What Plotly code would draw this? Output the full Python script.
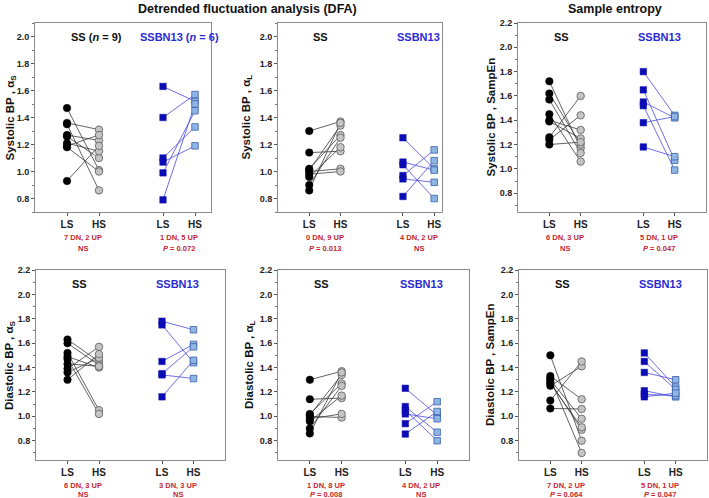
import plotly.graph_objects as go

W, H = 709, 498

# ---------------- data ----------------
X_LABELS = ["LS", "HS", "LS", "HS"]
X_POS = [1, 2, 4, 5]

# Systolic BP, alpha S
SYS_AS_SS_LS = [1.47, 1.36, 1.35, 1.27, 1.26, 1.21, 1.19, 1.18, 0.93]
SYS_AS_SS_HS = [1.01, 1.31, 0.86, 1.23, 1.10, 1.15, 1.27, 1.00, 1.19]
SYS_AS_BN_LS = [1.63, 1.40, 1.10, 1.07, 0.99, 0.79]
SYS_AS_BN_HS = [1.52, 1.57, 1.33, 1.19, 1.45, 1.50]

# Systolic BP, alpha L
SYS_AL_SS_LS = [1.30, 1.14, 1.02, 1.01, 1.00, 0.98, 0.96, 0.90, 0.86]
SYS_AL_SS_HS = [1.37, 1.15, 1.27, 1.34, 1.02, 1.00, 1.18, 1.25, 1.36]
SYS_AL_BN_LS = [1.25, 1.07, 1.05, 0.97, 0.945, 0.815]
SYS_AL_BN_HS = [1.02, 1.01, 0.80, 1.16, 0.92, 1.08]

# Systolic BP, SampEn
SYS_SE_SS_LS = [1.72, 1.62, 1.57, 1.45, 1.40, 1.39, 1.26, 1.24, 1.20]
SYS_SE_SS_HS = [1.17, 1.20, 1.13, 1.06, 1.32, 1.25, 1.60, 1.44, 1.22]
SYS_SE_BN_LS = [1.80, 1.65, 1.55, 1.52, 1.38, 1.18]
SYS_SE_BN_HS = [1.44, 1.07, 1.42, 0.99, 1.43, 1.10]

# Diastolic BP, alpha S
DIA_AS_SS_LS = [1.63, 1.60, 1.52, 1.49, 1.47, 1.43, 1.39, 1.36, 1.30]
DIA_AS_SS_HS = [1.45, 1.42, 1.05, 1.40, 1.02, 1.41, 1.57, 1.48, 1.51]
DIA_AS_BN_LS = [1.78, 1.75, 1.45, 1.35, 1.34, 1.16]
DIA_AS_BN_HS = [1.71, 1.44, 1.59, 1.57, 1.31, 1.46]

# Diastolic BP, alpha L
DIA_AL_SS_LS = [1.30, 1.14, 1.02, 1.01, 1.00, 0.98, 0.96, 0.90, 0.86]
DIA_AL_SS_HS = [1.37, 1.15, 1.27, 1.34, 0.99, 1.02, 1.17, 1.25, 1.36]
DIA_AL_BN_LS = [1.23, 1.08, 1.05, 1.02, 0.94, 0.855]
DIA_AL_BN_HS = [1.01, 0.87, 0.80, 0.98, 1.12, 1.04]

# Diastolic BP, SampEn
DIA_SE_SS_LS = [1.50, 1.33, 1.31, 1.30, 1.28, 1.27, 1.25, 1.13, 1.065]
DIA_SE_SS_HS = [0.80, 1.14, 0.70, 0.98, 0.89, 0.91, 1.41, 1.45, 1.06]
DIA_SE_BN_LS = [1.52, 1.45, 1.36, 1.21, 1.18, 1.16]
DIA_SE_BN_HS = [1.24, 1.22, 1.30, 1.16, 1.17, 1.19]

Y_TITLES = ["Systolic BP , α<sub>S</sub>", "Systolic BP , α<sub>L</sub>", "Systolic BP , SampEn",
            "Diastolic BP , α<sub>S</sub>", "Diastolic BP , α<sub>L</sub>", "Diastolic BP , SampEn"]
SS_LABELS = ["SS (<i>n</i> = 9)", "SS", "SS", "SS", "SS", "SS"]
BN_LABELS = ["SSBN13 (<i>n</i> = 6)", "SSBN13", "SSBN13", "SSBN13", "SSBN13", "SSBN13"]
SS_STATS = [("7 DN, 2 UP", "NS"), ("0 DN, 9 UP", "<i>P</i> = 0.013"), ("6 DN, 3 UP", "NS"),
            ("6 DN, 3 UP", "NS"), ("1 DN, 8 UP", "<i>P</i> = 0.008"), ("7 DN, 2 UP", "<i>P</i> = 0.064")]
BN_STATS = [("1 DN, 5 UP", "<i>P</i> = 0.072"), ("4 DN, 2 UP", "NS"), ("5 DN, 1 UP", "<i>P</i> = 0.047"),
            ("3 DN, 3 UP", "NS"), ("4 DN, 2 UP", "NS"), ("5 DN, 1 UP", "<i>P</i> = 0.047")]
PANEL_TITLES = ["Detrended fluctuation analysis (DFA)", "Sample entropy"]

PANEL_DATA = [
    (SYS_AS_SS_LS, SYS_AS_SS_HS, SYS_AS_BN_LS, SYS_AS_BN_HS),
    (SYS_AL_SS_LS, SYS_AL_SS_HS, SYS_AL_BN_LS, SYS_AL_BN_HS),
    (SYS_SE_SS_LS, SYS_SE_SS_HS, SYS_SE_BN_LS, SYS_SE_BN_HS),
    (DIA_AS_SS_LS, DIA_AS_SS_HS, DIA_AS_BN_LS, DIA_AS_BN_HS),
    (DIA_AL_SS_LS, DIA_AL_SS_HS, DIA_AL_BN_LS, DIA_AL_BN_HS),
    (DIA_SE_SS_LS, DIA_SE_SS_HS, DIA_SE_BN_LS, DIA_SE_BN_HS),
]

# ---------------- layout geometry (pixels) ----------------
BOXES = [(35, 211, 23, 212), (278, 442, 23, 212), (518, 706, 23, 212),
         (36, 225, 270, 460), (278, 469, 270, 460), (519, 707, 270, 460)]
XRANGES = [[0, 5.5], [0, 5.25], [0, 6], [0, 6], [0, 6], [0, 6]]
YRANGES = [[0.7, 2.1], [0.7, 2.1], [0.645, 2.2], [0.642, 2.2], [0.642, 2.2], [0.642, 2.2]]
YTITLE_X = [10, 246, 490, 10, 250, 490]

FONT = "Liberation Sans, Arial, sans-serif"
SS_LINE = "#3a3a3a"
BN_LINE = "#4a4ae0"
BLUE_TXT = "#2b2bd4"
RED_TXT = "#c4262e"

fig = go.Figure()
layout = dict(width=W, height=H, margin=dict(l=0, r=0, t=0, b=0, autoexpand=False),
              paper_bgcolor="white", plot_bgcolor="white", showlegend=False,
              font=dict(family=FONT, color="#222"))
annotations = []

for i, (box, data) in enumerate(zip(BOXES, PANEL_DATA)):
    k = "" if i == 0 else str(i + 1)
    xa, ya = "x" + k, "y" + k
    x0, x1, y0, y1 = box
    ss_ls, ss_hs, bn_ls, bn_hs = data

    # connecting lines
    lx, ly = [], []
    for a, b in zip(ss_ls, ss_hs):
        lx += [X_POS[0], X_POS[1], None]
        ly += [a, b, None]
    fig.add_trace(go.Scatter(x=lx, y=ly, mode="lines", line=dict(color=SS_LINE, width=0.8),
                             xaxis=xa, yaxis=ya, hoverinfo="skip"))
    lx, ly = [], []
    for a, b in zip(bn_ls, bn_hs):
        lx += [X_POS[2], X_POS[3], None]
        ly += [a, b, None]
    fig.add_trace(go.Scatter(x=lx, y=ly, mode="lines", line=dict(color=BN_LINE, width=0.8),
                             xaxis=xa, yaxis=ya, hoverinfo="skip"))
    # markers
    fig.add_trace(go.Scatter(x=[X_POS[1]] * len(ss_hs), y=ss_hs, mode="markers",
                             marker=dict(symbol="circle", size=7.5, color="#c4c4c4",
                                         line=dict(color="#5a5a5a", width=0.8)),
                             xaxis=xa, yaxis=ya))
    fig.add_trace(go.Scatter(x=[X_POS[0]] * len(ss_ls), y=ss_ls, mode="markers",
                             marker=dict(symbol="circle", size=7.5, color="#000000",
                                         line=dict(color="#000000", width=0.5)),
                             xaxis=xa, yaxis=ya))
    fig.add_trace(go.Scatter(x=[X_POS[3]] * len(bn_hs), y=bn_hs, mode="markers",
                             marker=dict(symbol="square", size=6.5, color="#8db6e4",
                                         line=dict(color="#3a5ea8", width=0.8)),
                             xaxis=xa, yaxis=ya))
    fig.add_trace(go.Scatter(x=[X_POS[2]] * len(bn_ls), y=bn_ls, mode="markers",
                             marker=dict(symbol="square", size=6.5, color="#0c0cb4",
                                         line=dict(color="#0c0cb4", width=0.5)),
                             xaxis=xa, yaxis=ya))

    layout["xaxis" + k] = dict(
        domain=[x0 / W, x1 / W], anchor=ya, range=XRANGES[i],
        tickmode="array", tickvals=X_POS, ticktext=X_LABELS,
        ticks="outside", ticklen=3, tickcolor="#555",
        tickfont=dict(family=FONT, size=10, color="#222", weight="bold"),
        showline=True, mirror=True, linecolor="#8a8a8a", linewidth=1,
        showgrid=False, zeroline=False, fixedrange=True, automargin=False)
    layout["yaxis" + k] = dict(
        domain=[1 - y1 / H, 1 - y0 / H], anchor=xa, range=YRANGES[i],
        tickmode="linear", tick0=0, dtick=0.2, tickformat=".1f",
        ticks="outside", ticklen=3, tickcolor="#555",
        minor=dict(dtick=0.1, tick0=0, ticks="outside", ticklen=2, tickcolor="#777"),
        tickfont=dict(family=FONT, size=9, color="#222", weight="bold"),
        showline=True, mirror=True, linecolor="#8a8a8a", linewidth=1,
        showgrid=False, zeroline=False, fixedrange=True, automargin=False)

    # y title
    annotations.append(dict(text=Y_TITLES[i], textangle=-90, xref="paper", yref="paper",
                            x=YTITLE_X[i] / W, y=1 - (y0 + y1) / 2 / H, showarrow=False,
                            xanchor="center", yanchor="middle",
                            font=dict(family=FONT, size=11.5, color="#111", weight="bold")))
    # group labels
    annotations.append(dict(text=SS_LABELS[i], xref=xa, yref=ya + " domain", x=1.07, y=0.925,
                            showarrow=False, xanchor="left", yanchor="middle",
                            font=dict(family=FONT, size=11, color="#111", weight="bold")))
    annotations.append(dict(text=BN_LABELS[i], xref=xa, yref=ya + " domain", x=4.5, y=0.925,
                            showarrow=False, xanchor="center", yanchor="middle",
                            font=dict(family=FONT, size=11, color=BLUE_TXT, weight="bold")))
    # stats below
    ry1 = 238 if i < 3 else 485
    ry2 = 248 if i < 3 else 494
    for xc, (l1, l2) in ((1.5, SS_STATS[i]), (4.5, BN_STATS[i])):
        annotations.append(dict(text=l1, xref=xa, yref="paper", x=xc, y=1 - ry1 / H,
                                showarrow=False, xanchor="center", yanchor="middle",
                                font=dict(family=FONT, size=7.5, color=RED_TXT, weight="bold")))
        annotations.append(dict(text=l2, xref=xa, yref="paper", x=xc, y=1 - ry2 / H,
                                showarrow=False, xanchor="center", yanchor="middle",
                                font=dict(family=FONT, size=7.5, color=RED_TXT, weight="bold")))

annotations.append(dict(text=PANEL_TITLES[0], xref="paper", yref="paper", x=247 / W, y=1 - 9 / H,
                        showarrow=False, xanchor="center", yanchor="middle",
                        font=dict(family=FONT, size=12.5, color="#111", weight="bold")))
annotations.append(dict(text=PANEL_TITLES[1], xref="paper", yref="paper", x=615 / W, y=1 - 9 / H,
                        showarrow=False, xanchor="center", yanchor="middle",
                        font=dict(family=FONT, size=12.5, color="#111", weight="bold")))

layout["annotations"] = annotations
fig.update_layout(**layout)
fig.write_html("out.html", config={"displayModeBar": False},
               post_script="document.body.style.margin='0';document.body.style.padding='0';")
